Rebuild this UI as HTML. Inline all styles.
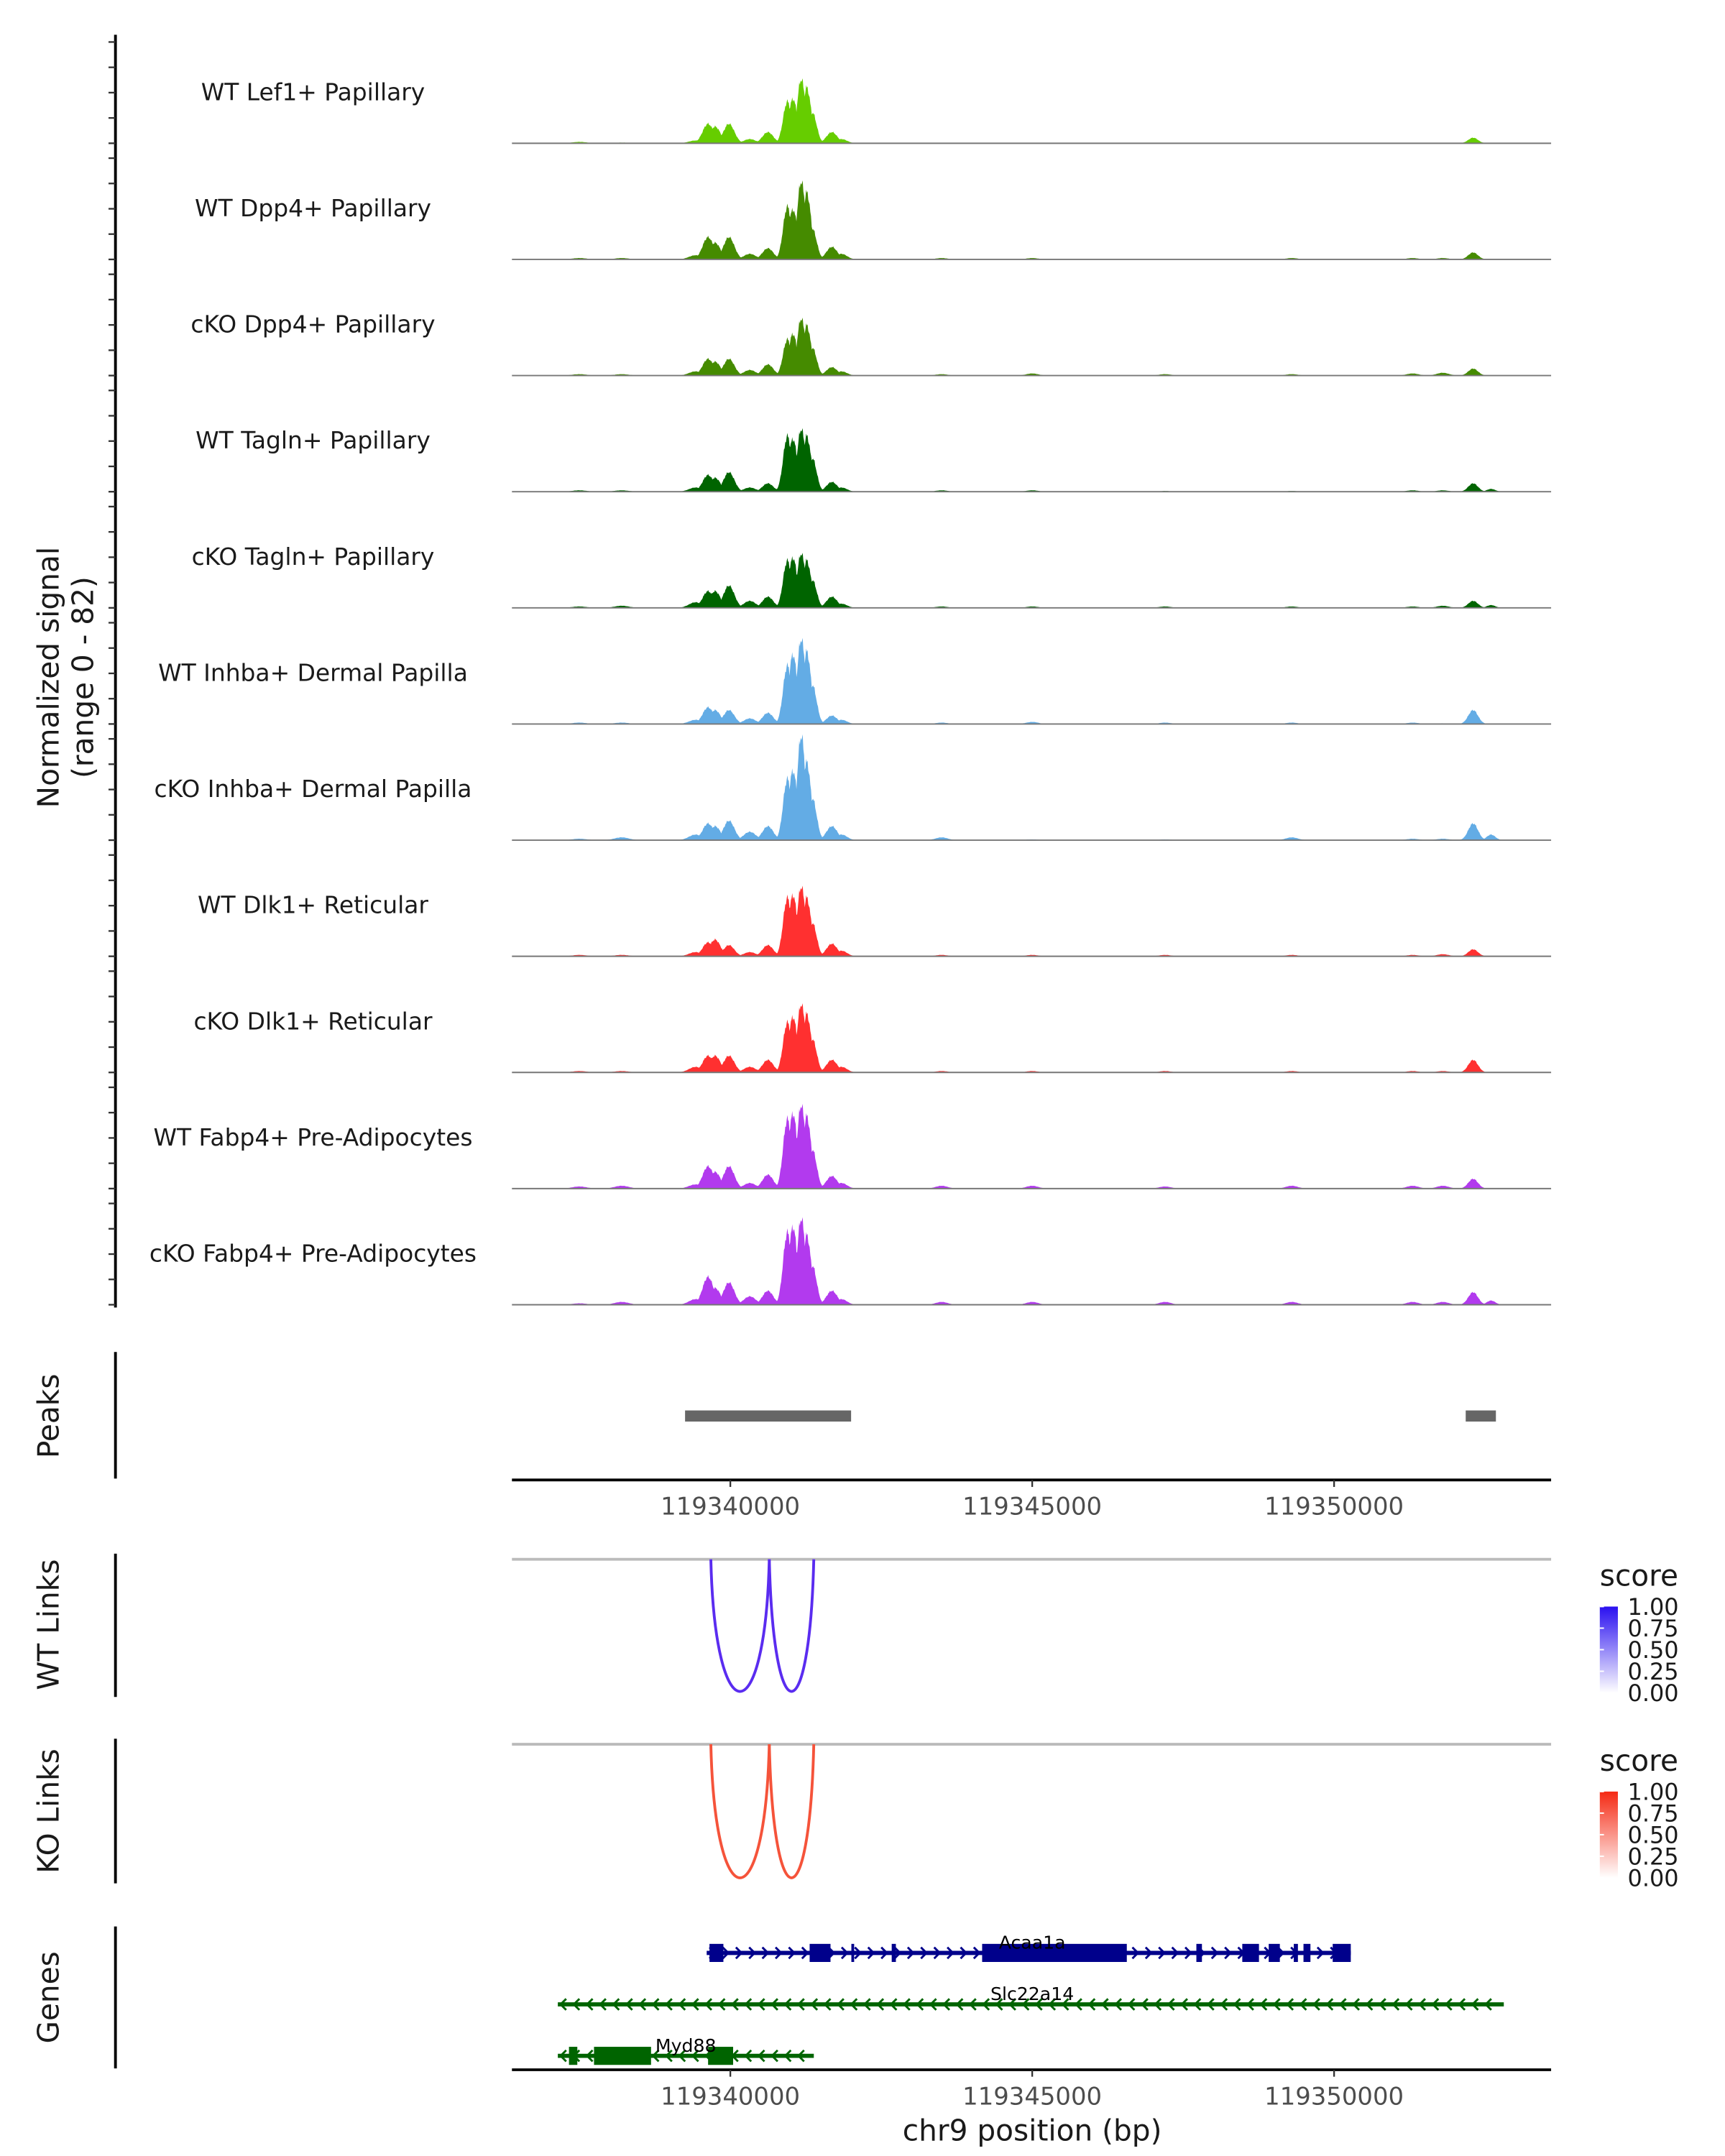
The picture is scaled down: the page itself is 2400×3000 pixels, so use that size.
<!DOCTYPE html>
<html><head><meta charset="utf-8"><style>
html,body{margin:0;padding:0;background:#fff}
svg{display:block;font-family:"DejaVu Sans","Liberation Sans",sans-serif}
</style></head><body>
<svg id="chart" xmlns="http://www.w3.org/2000/svg" width="2400" height="3000" viewBox="0 0 1240 1550">
<rect width="1240" height="1550" fill="#fff"/>
<g id="tracks"></g>
<g id="peaks"></g>
<g id="links"></g>
<g id="genes"></g>
<text transform="translate(42,487) rotate(-90)" text-anchor="middle" font-size="21" fill="#1a1a1a">Normalized signal</text>
<text transform="translate(67,487) rotate(-90)" text-anchor="middle" font-size="21" fill="#1a1a1a">(range 0 - 82)</text>
<text transform="translate(42,1018) rotate(-90)" text-anchor="middle" font-size="21" fill="#1a1a1a">Peaks</text>
<text transform="translate(42,1168) rotate(-90)" text-anchor="middle" font-size="21" fill="#1a1a1a">WT Links</text>
<text transform="translate(42,1302) rotate(-90)" text-anchor="middle" font-size="21" fill="#1a1a1a">KO Links</text>
<text transform="translate(42,1436) rotate(-90)" text-anchor="middle" font-size="21" fill="#1a1a1a">Genes</text>
<text x="742" y="1539" text-anchor="middle" font-size="21" fill="#1a1a1a">chr9 position (bp)</text>
</svg>
<script>
const NS="http://www.w3.org/2000/svg";
const trackNames=["WT Lef1+ Papillary","WT Dpp4+ Papillary","cKO Dpp4+ Papillary","WT Tagln+ Papillary","cKO Tagln+ Papillary","WT Inhba+ Dermal Papilla","cKO Inhba+ Dermal Papilla","WT Dlk1+ Reticular","cKO Dlk1+ Reticular","WT Fabp4+ Pre-Adipocytes","cKO Fabp4+ Pre-Adipocytes"];
const trackColors=["#66cd00","#458b00","#458b00","#006400","#006400","#63ace5","#63ace5","#ff3030","#ff3030","#b23aee","#b23aee"];
const peakCenters=[119339424,119339631,119339747,119339977,119340323,119340622,119340945,119341037,119341175,119341267,119341359,119341682,119341843,119352303,119337500,119338200,119343500,119345000,119347200,119349300,119351300,119351800,119352600];
const peakWidths=[110,90,90,90,100,90,70,70,70,70,70,90,90,80,120,120,100,100,100,100,100,100,70];
const hLef1=[2,14,12,14,3,8,30,32,46,40,22,8,3,4,1,0.5,0,0,0,0,0,0,0];
const hWtDpp4=[3,16,12,16,4,8,38,36,56,48,22,9,4,5,1,1,1,1,0.5,1,1,1,0];
const hKoDpp4=[3,12,10,12,4,8,26,30,41,36,20,6,3,5,1,1,1,1.5,1,1,1.5,2,0];
const hWtTagln=[3,12,10,14,3,6,40,38,45,40,24,7,3,6,1,1,1,1,0.5,0.5,1,1,2];
const hKoTagln=[4,12,12,16,5,8,34,36,39,34,20,8,3,5,1,1.5,1,1,1,1,1,1.5,2];
const hWtInhba=[3,12,10,10,4,8,42,50,61,52,28,6,3,10,1,1,1,1.5,1,1,1,0.5,0];
const hKoInhba=[4,12,10,14,6,10,44,50,75,56,30,10,4,12,1,2,2,0.5,0.5,2,1,1,4];
const hWtDlk1=[3,10,12,8,3,8,42,44,50,42,24,9,4,5,1,1,1,1,1,1,1,1.5,0];
const hKoDlk1=[4,12,12,12,4,9,36,40,49,42,24,9,4,9,1,1,1,1,1,1,1,1,0];
const hWtFabp4=[3,16,12,16,4,10,50,54,60,52,28,9,4,7,1.5,2,2,2,1.5,2,2,2,0];
const hKoFabp4=[4,20,12,16,6,10,52,56,62,50,28,10,4,9,1,2,2,2,2,2,2,2,3];
const trackHeights=[hLef1,hWtDpp4,hKoDpp4,hWtTagln,hKoTagln,hWtInhba,hKoInhba,hWtDlk1,hKoDlk1,hWtFabp4,hKoFabp4];
const xTicks=[119340000,119345000,119350000];
const peakStarts=[119339250,119352180];
const peakEnds=[119342000,119352680];
const wtLinkStarts=[119339677,119340645];
const wtLinkEnds=[119340645,119341382];
const koLinkStarts=[119339677,119340645];
const koLinkEnds=[119340645,119341382];
const legendTicks=["1.00","0.75","0.50","0.25","0.00"];

const X=bp=>525+(bp-119340000)*217/5000;
const X0=368,X1=1115,UNIT=0.91,SIG=1.0,BASE0=103,STEP=83.5;
function mk(tag,attrs,parent){const e=document.createElementNS(NS,tag);for(const k in attrs)e.setAttribute(k,attrs[k]);parent.appendChild(e);return e;}
const tracks=document.getElementById('tracks');
mk('line',{x1:83,y1:25,x2:83,y2:940,stroke:'#000','stroke-width':2},tracks);
trackNames.forEach((nm,i)=>{
  const base=BASE0+i*STEP;
  const g=mk('g',{},tracks);
  
  
  [0,20,40,60,80].forEach(v=>{mk('line',{x1:78,x2:83,y1:base-v*UNIT,y2:base-v*UNIT,stroke:'#333','stroke-width':1.2},g);});
  const lbl=mk('text',{x:225,y:base-31,'text-anchor':'middle','font-size':17,fill:'#1a1a1a'},g);
  lbl.textContent=nm;
  
  
  const hs=trackHeights[i];
  let d='M'+X0+','+base;
  for(let px=X0;px<=X1;px+=0.5){
    const bp=119340000+(px-525)*5000/217;
    let v=0;
    peakCenters.forEach((c,k)=>{const w=peakWidths[k];const z=(bp-c)/w;v=Math.max(v,hs[k]*Math.exp(-z*z/2));});
    const jag=(Math.sin(px*2.3)+Math.sin(px*5.1))*0.04*v;
    d+=' L'+px+','+(base-(v+jag)*SIG).toFixed(2);
  }
  d+=' L'+X1+','+base+' Z';
  const a=mk('path',{d:d,fill:trackColors[i]},g);
  
  
  mk('line',{x1:X0,x2:X1,y1:base,y2:base,stroke:'#777','stroke-width':1},g);
});
const pk=document.getElementById('peaks');
mk('line',{x1:83,y1:972,x2:83,y2:1063,stroke:'#000','stroke-width':2},pk);
peakStarts.forEach((s,i)=>{const r=mk('rect',{x:X(s),y:1014,width:X(peakEnds[i])-X(s),height:8,fill:'#666'},pk);
  
  });
function xAxis(y,parent,name){
  const g=mk('g',{},parent);
  
  
  mk('line',{x1:X0,x2:X1,y1:y,y2:y,stroke:'#000','stroke-width':2},g);
  xTicks.forEach(t=>{mk('line',{x1:X(t),x2:X(t),y1:y,y2:y+5,stroke:'#333','stroke-width':1.2},g);
    const tx=mk('text',{x:X(t),y:y+25,'text-anchor':'middle','font-size':17.5,fill:'#4d4d4d'},g);tx.textContent=t;});
}
xAxis(1064,pk,'peaks-x-axis');
const lk=document.getElementById('links');
function linkPanel(top,bottom,starts,ends,color,gradId,c1,name){
  const g=mk('g',{},lk);
  
  
  mk('line',{x1:83,y1:top-4,x2:83,y2:bottom+4,stroke:'#000','stroke-width':2},g);
  mk('line',{x1:X0,x2:X1,y1:top,y2:top,stroke:'#bbb','stroke-width':2},g);
  starts.forEach((s,i)=>{const a=X(s),b=X(ends[i]);const cd=(bottom-top)*4/3;
    const p=mk('path',{d:`M${a},${top} C${a+3},${top+cd} ${b-3},${top+cd} ${b},${top}`,fill:'none',stroke:color,'stroke-width':2},g);
    
    });
  const defs=mk('defs',{},g);const lg=mk('linearGradient',{id:gradId,x1:0,y1:0,x2:0,y2:1},defs);
  mk('stop',{offset:0,'stop-color':c1},lg);mk('stop',{offset:1,'stop-color':'#fff'},lg);
  const lt=mk('text',{x:1150,y:top+19,'font-size':21,fill:'#1a1a1a'},g);lt.textContent='score';
  
  
  const cb=mk('rect',{x:1150,y:top+34,width:13,height:62,fill:`url(#${gradId})`},g);
  
  
  legendTicks.forEach((t,k)=>{const yy=top+34+k*15.5;
    mk('line',{x1:1150,x2:1153,y1:yy,y2:yy,stroke:'#fff'},g);
    const tx=mk('text',{x:1170,y:yy+6,'font-size':16.5,fill:'#1a1a1a'},g);tx.textContent=t;});
}
linkPanel(1121,1216,wtLinkStarts,wtLinkEnds,'#5a2cf0','gW','#2a10f0','wt-links');
linkPanel(1254,1350,koLinkStarts,koLinkEnds,'#f5533a','gK','#f52a14','ko-links');
const gn=document.getElementById('genes');
mk('line',{x1:83,y1:1385,x2:83,y2:1487,stroke:'#000','stroke-width':2},gn);
function gene(name,y,x0,x1,exons,color,dir,lx){
  const g=mk('g',{},gn);
  
  
  mk('line',{x1:x0,x2:x1,y1:y,y2:y,stroke:color,'stroke-width':3},g);
  for(let x=x0+4;x<x1-2;x+=9.5){const p=dir>0?`${x-2},${y-4} ${x+2},${y} ${x-2},${y+4}`:`${x+2},${y-4} ${x-2},${y} ${x+2},${y+4}`;
    mk('polyline',{points:p,fill:'none',stroke:color,'stroke-width':1.5},g);}
  exons.forEach(e=>mk('rect',{x:e[0],y:y-6.5,width:e[1]-e[0],height:13,fill:color},g));
  const t=mk('text',{x:lx,y:y-3,'text-anchor':'middle','font-size':13,fill:'#000'},g);t.textContent=name;
}
gene('Acaa1a',1404,508,971,[[510,520],[582,597],[612,614],[641,644],[706,810],[860,864],[893,905],[912,920],[930,933],[937,942],[958,971]],'#00008b',1,742);
gene('Slc22a14',1441,401,1081,[],'#006400',-1,742);
gene('Myd88',1478,401,585,[[409,415],[427,468],[509,527]],'#006400',-1,493);
xAxis(1488,gn,'genes-x-axis');
</script>
</body></html>
